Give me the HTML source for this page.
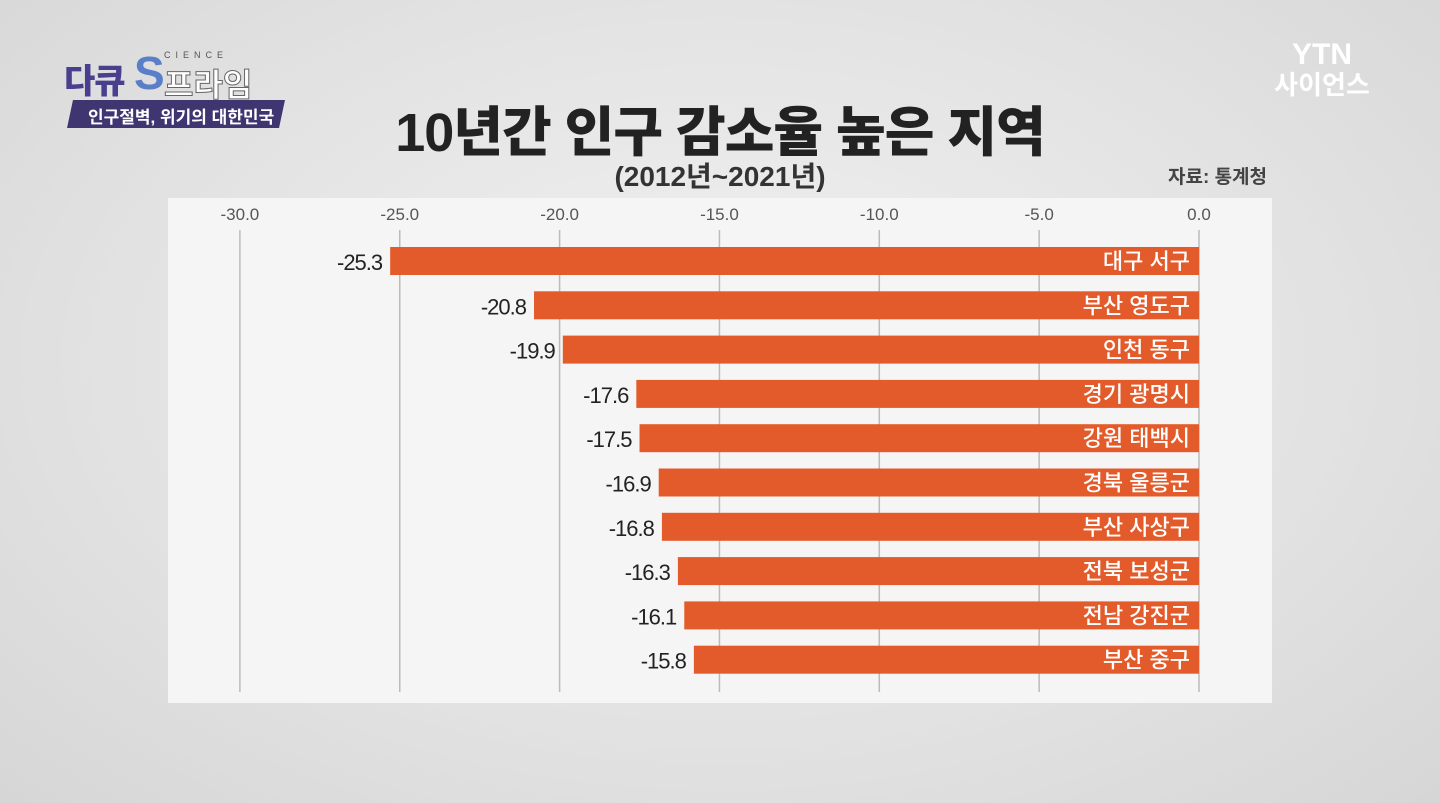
<!DOCTYPE html>
<html><head><meta charset="utf-8"><style>
body{margin:0;width:1440px;height:803px;overflow:hidden;background:radial-gradient(ellipse at 50% 45%,#f2f2f2 0%,#e2e2e2 60%,#d6d6d6 100%);font-family:"Liberation Sans","Noto Sans CJK KR",sans-serif;position:relative}
.abs{position:absolute}
</style></head><body>
<div class="abs" style="left:64px;top:50px;width:220px;height:80px">
 <div class="abs" style="left:0;top:4px;font-size:34px;font-weight:900;color:#4a3f8f;letter-spacing:-1px">다큐</div>
 <div class="abs" style="left:70px;top:-4px;font-size:46px;font-weight:900;color:#5a7fc8">S</div>
 <div class="abs" style="left:100px;top:0px;font-size:9px;letter-spacing:5px;color:#555">CIENCE</div>
 <div class="abs" style="left:100px;top:10px;font-size:32px;font-weight:700;color:#fff;-webkit-text-stroke:1px #666">프라임</div>
 <div class="abs" style="left:6px;top:50px;width:212px;height:28px;background:#3f3570;transform:skewX(-12deg)"></div>
 <div class="abs" style="left:24px;top:53px;font-size:17px;color:#fff;font-weight:700">인구절벽, 위기의 대한민국</div>
</div>
<div class="abs" style="left:1262px;top:40px;width:120px;text-align:center;color:#fff;font-weight:700">
 <div style="font-size:30px;line-height:30px">YTN</div>
 <div style="font-size:26px;line-height:30px">사이언스</div>
</div>
<div class="abs" style="left:0;width:1440px;top:88px;text-align:center;font-size:54px;font-weight:900;color:#222;letter-spacing:-1px">10년간 인구 감소율 높은 지역</div>
<div class="abs" style="left:0;width:1440px;top:155px;text-align:center;font-size:28px;font-weight:700;color:#333">(2012년~2021년)</div>
<div class="abs" style="left:1168px;top:162px;font-size:19px;font-weight:700;color:#444">자료: 통계청</div>
<svg class="abs" style="left:0;top:0" width="1440" height="803" id="chart">
 <rect x="168" y="198" width="1104" height="505" fill="#f5f5f5"/>
 <g id="g"></g>
</svg>
<script>
const categories=["대구 서구","부산 영도구","인천 동구","경기 광명시","강원 태백시","경북 울릉군","부산 사상구","전북 보성군","전남 강진군","부산 중구"];
const values=[-25.3,-20.8,-19.9,-17.6,-17.5,-16.9,-16.8,-16.3,-16.1,-15.8];
const ticks=[-30,-25,-20,-15,-10,-5,0];
const NS="http://www.w3.org/2000/svg";
const g=document.getElementById('g');
const x=v=>1199+v*31.97;
const y=i=>247+i*44.3;
function mk(t,a,txt){const e=document.createElementNS(NS,t);for(const k in a)e.setAttribute(k,a[k]);if(txt!=null)e.textContent=txt;g.appendChild(e);return e;}
ticks.forEach(t=>{
 const l=mk('line',{x1:x(t),x2:x(t),y1:230,y2:692,stroke:'#bbb','stroke-width':1.5});
 
 
 const tx=mk('text',{x:x(t),y:220,'text-anchor':'middle','font-size':17,fill:'#555'},t.toFixed(1));
 
 
});
values.forEach((v,i)=>{
 const r=mk('rect',{x:x(v),y:y(i),width:x(0)-x(v),height:28,fill:'#e35b2b'});
 
 
 const c=mk('text',{x:x(0)-9,y:y(i)+22,'text-anchor':'end','font-size':22,'font-weight':'500',fill:'#fff'},categories[i]);
 
 
 const vl=mk('text',{x:x(v)-8,y:y(i)+23,'text-anchor':'end','font-size':22,fill:'#222','letter-spacing':'-1'},v.toFixed(1));
 
 
});
</script>
</body></html>
